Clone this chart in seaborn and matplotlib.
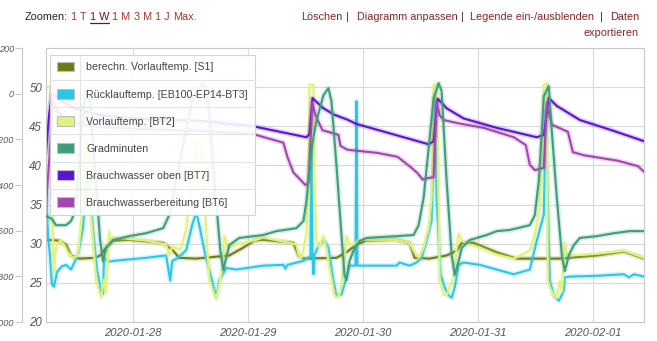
import matplotlib
matplotlib.use("Agg")
import numpy as np
import pandas as pd
import matplotlib.pyplot as plt
import matplotlib.dates as mdates
import matplotlib.patheffects as pe
from matplotlib.patches import Patch
from matplotlib.lines import Line2D
import seaborn as sns

sns.set_theme(style="white")
plt.rcParams['font.family'] = ['Liberation Sans', 'DejaVu Sans']

START = pd.Timestamp("2020-01-27 00:00")

series_names = [
    "berechn. Vorlauftemp. [S1]",
    "Rücklauftemp. [EB100-EP14-BT3]",
    "Vorlauftemp. [BT2]",
    "Gradminuten",
    "Brauchwasser oben [BT7]",
    "Brauchwasserbereitung [BT6]",
]
series_colors = ["#6f7d12", "#2cc6ea", "#e2f27a", "#3d9e7b", "#5a14d6", "#a445b2"]

x_tick_labels = ["2020-01-28", "2020-01-29", "2020-01-30", "2020-01-31", "2020-02-01"]
temp_ticks = [20, 25, 30, 35, 40, 45, 50]
gm_ticks = [-1000, -800, -600, -400, -200, 0, 200]
gm_tick_labels = ["-1000", "-800", "-600", "-400", "-200", "0", "200"]

zoom_labels = ["1 T", "1 W", "1 M", "3 M", "1 J", "Max."]
action_labels = ["Löschen", "Diagramm anpassen", "Legende ein-/ausblenden", "Daten"]

# (hours since 2020-01-27 00:00, value)
s1 = [(5.92, 30.5), (8.63, 30.4), (10.10, 29.9), (11.14, 28.5), (12.82, 28.1), (16.37, 28.2),
      (17.41, 28.6), (18.46, 29.5), (19.92, 30.4), (23.27, 30.5), (30.38, 30.1), (32.47, 29.1),
      (33.72, 28.2), (37.28, 28.1), (44.17, 28.5), (47.10, 29.5), (49.40, 30.4), (51.28, 30.5),
      (57.55, 30.1), (58.60, 28.5), (59.65, 28.1), (66.54, 28.2), (68.63, 28.9), (70.72, 29.9),
      (72.82, 30.4), (79.09, 30.5), (81.81, 30.1), (82.85, 28.2), (85.99, 28.1), (89.54, 28.5),
      (91.63, 29.1), (92.68, 30.1), (95.19, 30.1), (99.99, 28.9), (104.17, 28.1), (113.00, 28.1),
      (120.90, 28.5), (126.55, 29.0), (130.73, 28.1)]

bt3 = [(5.92, 38.0), (6.34, 31.0), (6.75, 28.5), (7.17, 24.8), (7.59, 24.5), (8.22, 26.4),
       (9.26, 27.1), (10.10, 27.3), (11.14, 26.7), (12.61, 28.6), (13.65, 32.0), (14.28, 38.2),
       (14.91, 38.2), (15.74, 31.8), (16.58, 26.7), (17.41, 23.9), (17.83, 23.6), (18.04, 28.2),
       (18.88, 27.7), (19.92, 27.8), (26.82, 28.2), (30.99, 28.5), (31.84, 25.3), (32.26, 27.8),
       (33.51, 28.2), (35.19, 29.2), (36.44, 32.4), (37.28, 34.0), (37.90, 32.4), (39.16, 28.6),
       (40.62, 25.2), (41.46, 23.2), (42.08, 25.3), (43.55, 26.9), (45.64, 26.7), (51.28, 27.2),
       (55.46, 27.3), (55.88, 26.8), (56.30, 27.3), (59.65, 27.8), (61.11, 28.4), (61.32, 42.6),
       (61.53, 28.5), (61.74, 26.1), (61.95, 28.6), (62.99, 29.9), (64.04, 30.4), (64.87, 29.5),
       (65.92, 25.3), (66.54, 23.4), (67.59, 23.5), (68.63, 25.7), (69.26, 27.2), (70.52, 27.2),
       (70.72, 48.2), (70.93, 27.2), (79.09, 27.2), (79.71, 27.6), (81.81, 27.2), (83.27, 27.6),
       (84.32, 28.2), (85.36, 30.4), (86.40, 32.9), (86.82, 40.7), (87.03, 49.0), (87.45, 35.6),
       (88.28, 26.1), (89.12, 24.4), (89.96, 23.4), (90.59, 23.1), (91.22, 24.4), (92.05, 27.3),
       (93.09, 27.6), (96.44, 27.3), (99.99, 26.7), (103.55, 26.1), (106.89, 26.7), (108.35, 30.4),
       (109.82, 33.7), (110.24, 47.1), (110.66, 35.6), (111.07, 25.3), (111.91, 23.4), (112.96, 22.7),
       (114.00, 24.0), (114.21, 25.7), (115.26, 25.8), (120.90, 25.9), (126.55, 26.1), (127.59, 25.7),
       (128.63, 26.1), (130.73, 25.8)]

bt2 = [(5.92, 49.9), (6.75, 50.1), (7.17, 34.3), (7.59, 26.3), (8.01, 29.5), (8.84, 30.4),
       (9.68, 29.9), (10.52, 28.9), (11.56, 28.2), (12.61, 28.5), (13.02, 31.1), (13.65, 36.2),
       (14.28, 43.2), (14.70, 43.2), (15.32, 33.7), (16.37, 25.3), (17.41, 23.1), (18.04, 25.4),
       (18.46, 23.8), (19.09, 31.5), (19.50, 30.5), (19.92, 30.8), (26.82, 30.4), (30.99, 29.9),
       (31.63, 28.5), (32.26, 29.7), (33.93, 29.2), (35.19, 31.8), (36.44, 39.4), (37.49, 43.2),
       (38.32, 42.6), (39.16, 33.7), (40.00, 25.3), (41.46, 22.9), (42.08, 24.8), (42.92, 27.8),
       (43.13, 31.0), (43.96, 29.5), (45.64, 29.9), (49.82, 30.5), (51.28, 30.8), (56.72, 30.1),
       (58.18, 29.9), (58.60, 28.6), (59.23, 28.2), (59.65, 29.2), (60.27, 31.1), (60.69, 38.0),
       (60.90, 50.3), (61.74, 50.3), (61.95, 38.0), (62.36, 30.4), (62.99, 29.5), (63.83, 31.0),
       (64.45, 29.2), (65.08, 26.9), (66.13, 23.4), (66.96, 23.1), (67.59, 24.8), (68.22, 28.0),
       (68.63, 31.0), (69.26, 29.9), (70.10, 29.9), (71.35, 30.5), (79.09, 30.5), (81.81, 30.1),
       (82.64, 29.1), (83.69, 28.2), (84.73, 29.5), (85.78, 32.0), (86.40, 35.9), (86.82, 50.3),
       (87.45, 50.3), (87.87, 38.0), (88.08, 25.3), (88.91, 23.5), (89.54, 23.4), (90.17, 24.4),
       (91.00, 25.7), (91.63, 29.5), (92.05, 31.3), (92.68, 30.4), (93.72, 30.0), (96.44, 29.5),
       (99.99, 28.6), (103.55, 28.1), (106.89, 29.1), (107.94, 31.1), (108.98, 34.6), (109.82, 50.3),
       (110.45, 50.5), (110.66, 25.3), (111.07, 24.4), (111.91, 23.4), (112.54, 23.1), (113.17, 25.3),
       (113.58, 23.9), (114.21, 30.1), (114.63, 28.6), (115.26, 28.5), (120.90, 28.7), (126.55, 29.1),
       (130.73, 28.2)]

gradminuten = [(5.92, -536), (7.17, -549), (8.01, -576), (10.10, -576), (11.14, -558), (11.77, -527),
               (12.61, -379), (13.44, -116), (14.28, 6), (15.12, -29), (16.16, -335), (17.21, -641),
               (17.83, -733), (18.46, -676), (19.92, -641), (23.27, -624), (26.82, -611), (30.38, -589),
               (31.63, -532), (33.93, -291), (36.44, -29), (38.74, 50), (39.78, -29), (41.04, -379),
               (42.29, -685), (42.92, -772), (44.17, -663), (46.26, -632), (51.28, -619), (54.00, -602),
               (58.18, -589), (59.65, -558), (60.27, -471), (61.32, -239), (62.36, -120), (63.83, -7),
               (64.87, 24), (65.50, -33), (66.54, -313), (67.59, -619), (68.22, -794), (68.63, -816),
               (69.26, -733), (70.31, -676), (71.35, -646), (72.82, -632), (79.09, -624), (82.64, -619),
               (83.69, -576), (84.73, -457), (85.78, -239), (86.82, -20), (87.87, 46), (88.49, 11),
               (89.54, -383), (90.59, -707), (91.22, -794), (92.05, -733), (92.68, -676), (94.35, -641),
               (97.90, -619), (99.99, -602), (102.71, -597), (106.89, -576), (107.94, -532), (108.77, -383),
               (109.40, -164), (109.82, -11), (110.86, 33), (111.49, -164), (112.54, -457), (113.58, -707),
               (114.21, -777), (115.05, -707), (116.09, -663), (117.35, -632), (120.90, -624), (124.46, -611),
               (127.80, -602), (130.73, -602)]

bt7 = [(5.92, 41.6), (6.55, 46.4), (7.17, 49.2), (7.80, 48.9), (8.84, 48.3), (11.98, 47.3),
       (17.21, 46.4), (27.66, 45.9), (38.11, 45.7), (49.19, 45.0), (60.27, 43.6), (60.90, 44.0),
       (61.53, 48.6), (62.57, 48.0), (63.83, 47.3), (66.00, 46.5), (68.63, 45.9), (70.72, 45.3),
       (85.78, 42.7), (86.82, 43.1), (87.66, 48.5), (88.50, 48.0), (89.54, 47.3), (93.09, 46.0),
       (99.99, 44.8), (108.35, 43.6), (109.82, 43.9), (110.86, 48.6), (111.70, 48.1), (112.54, 47.6),
       (117.35, 45.8), (124.46, 44.4), (130.73, 43.1)]

bt6 = [(5.92, 35.0), (6.75, 42.0), (7.38, 48.1), (8.42, 46.8), (10.93, 45.5), (17.21, 44.9),
       (27.66, 44.6), (38.11, 44.4), (49.19, 44.0), (55.46, 42.9), (56.30, 41.1), (57.55, 39.1),
       (60.06, 37.5), (60.69, 37.8), (61.53, 48.0), (62.15, 46.4), (63.62, 44.5), (66.96, 43.9),
       (67.38, 42.5), (68.84, 42.0), (75.11, 41.6), (79.30, 41.1), (82.01, 39.8), (83.48, 39.0),
       (84.52, 38.2), (85.78, 38.4), (86.82, 38.5), (87.45, 48.1), (88.08, 46.4), (88.91, 45.8),
       (91.84, 45.4), (97.28, 44.8), (103.55, 43.6), (106.06, 42.6), (106.89, 40.1), (107.94, 39.4),
       (109.82, 39.7), (110.45, 48.0), (111.49, 45.2), (114.84, 44.3), (115.88, 41.7), (118.18, 41.3),
       (125.29, 40.6), (129.47, 39.9), (130.73, 39.2)]

x_range_hours = (5.92, 130.73)


def to_df(pairs):
    h, v = zip(*pairs)
    return pd.DataFrame({"time": START + pd.to_timedelta(list(h), unit="h"), "value": list(v)})


W, H = 657, 341
fig = plt.figure(figsize=(W / 100, H / 100), dpi=100)
fig.patch.set_facecolor("white")


def fx(px):
    return px / W


def fy(py):
    return 1 - py / H


ax = fig.add_axes([fx(46), fy(322), (644 - 46) / W, (322 - 48) / H])
ax2 = ax.twinx()
ax.set_facecolor("white")

grid_c = "#d9d9d9"
spine_c = "#c8c8c8"
tick_txt = "#555555"

plot_spec = [
    (s1, 0, ax), (bt3, 1, ax), (bt2, 2, ax), (bt7, 4, ax), (bt6, 5, ax), (gradminuten, 3, ax2),
]
for pairs, idx, target in plot_spec:
    col = series_colors[idx]
    sns.lineplot(data=to_df(pairs), x="time", y="value", ax=target, color=col,
                 linewidth=1.5, estimator=None, sort=False, legend=False)
    ln = target.lines[-1]
    ln.set_path_effects([pe.Stroke(linewidth=3.8, foreground=col, alpha=0.2), pe.Normal()])
    ln.set_solid_joinstyle("round")

# x axis
x0 = START + pd.to_timedelta(x_range_hours[0], unit="h")
x1 = START + pd.to_timedelta(x_range_hours[1], unit="h")
ax.set_xlim(mdates.date2num(x0.to_pydatetime()), mdates.date2num(x1.to_pydatetime()))
xt = [mdates.date2num(pd.Timestamp(s).to_pydatetime()) for s in x_tick_labels]
ax.set_xticks(xt, labels=x_tick_labels, fontstyle="italic", fontsize=8, color=tick_txt)
ax.tick_params(axis="x", length=0, pad=4.2)
ax.set_xlabel("")

# inner temperature axis
ax.set_ylim(20, 55)
ax.set_yticks(temp_ticks, labels=[str(t) for t in temp_ticks], fontstyle="italic",
              fontsize=8.3, color=tick_txt)
ax.tick_params(axis="y", length=0, pad=2.8)
ax.set_ylabel("")
ax.grid(True, axis="both", color=grid_c, linewidth=0.8)
for s in ax.spines.values():
    s.set_color(spine_c)
    s.set_linewidth(0.8)

# outer Gradminuten axis (its labels run off the left edge, as in the reference)
ax2.set_ylim(-1000, 200)
ax2.yaxis.tick_left()
ax2.yaxis.set_label_position("left")
ax2.spines["left"].set_visible(True)
ax2.spines["left"].set_position(("outward", 17.3))
ax2.spines["left"].set_color(spine_c)
ax2.spines["left"].set_linewidth(0.8)
for k in ("right", "top", "bottom"):
    ax2.spines[k].set_visible(False)
ax2.set_yticks(gm_ticks, labels=gm_tick_labels, fontstyle="italic", fontsize=6.6, color=tick_txt)
ax2.tick_params(axis="y", which="both", left=True, right=False, labelleft=True,
                labelright=False, length=5, width=0.8, color=spine_c, pad=0.6)
ax2.grid(False)
ax2.set_ylabel("")

# legend
handles = [Patch(facecolor=c, edgecolor="#bdbdbd", linewidth=0.8) for c in series_colors]
leg = ax2.legend(handles, series_names, loc="upper left",
                 bbox_to_anchor=(fx(50), fy(55)), bbox_transform=fig.transFigure,
                 borderaxespad=0, frameon=True, fancybox=False, framealpha=0.9,
                 edgecolor="#d0d0d0", facecolor="white", fontsize=7.7, labelcolor="#444444",
                 handlelength=1.6, handleheight=0.98, handletextpad=1.15,
                 labelspacing=1.56, borderpad=0.66)
leg.get_frame().set_linewidth(0.8)
leg.set_zorder(10)

# header links
link_c = "#a8382f"
link_dark = "#8e2424"
hs = 7.8
fig.text(fx(25), fy(20), "Zoomen:", fontsize=hs, color="#222222", va="baseline")

fig.canvas.draw()
r = fig.canvas.get_renderer()

xpos = 71.0
for lab in zoom_labels:
    active = lab == "1 W"
    c = "#7a1414" if active else link_c
    t = fig.text(fx(xpos), fy(20), lab, fontsize=hs, color=c, va="baseline")
    bb = t.get_window_extent(r)
    if active:
        fig.add_artist(Line2D([bb.x0 / W, bb.x1 / W], [fy(22.5), fy(22.5)], color=c, lw=0.9))
    xpos = bb.x1 + 3.2

right_starts = [301.5, 357, 470, 610]
sep_x = [346, 461, 600]
for lab, xp in zip(action_labels, right_starts):
    fig.text(fx(xp), fy(20), lab, fontsize=hs, color=link_dark, va="baseline")
for xp in sep_x:
    fig.text(fx(xp), fy(20), "|", fontsize=hs, color="#333333", va="baseline")
fig.text(fx(639), fy(36), "exportieren", fontsize=hs, color=link_dark, va="baseline", ha="right")

fig.canvas.draw()
fb = leg.get_frame().get_window_extent(r)
tb = [t.get_window_extent(r) for t in leg.get_texts()]
hb = [h.get_window_extent(r) for h in leg.legend_handles]
centers = [(b.y0 + b.y1) / 2 for b in hb]
for a, b in zip(centers[:-1], centers[1:]):
    yy = (a + b) / 2 / H
    fig.add_artist(Line2D([fb.x0 / W, fb.x1 / W], [yy, yy], color="#e4e4e4", lw=0.8, zorder=20))
xv = (hb[0].x1 + tb[0].x0) / 2 / W
fig.add_artist(Line2D([xv, xv], [fb.y0 / H, fb.y1 / H], color="#e4e4e4", lw=0.8, zorder=20))

fig.savefig("out.png", dpi=100, facecolor="white")
